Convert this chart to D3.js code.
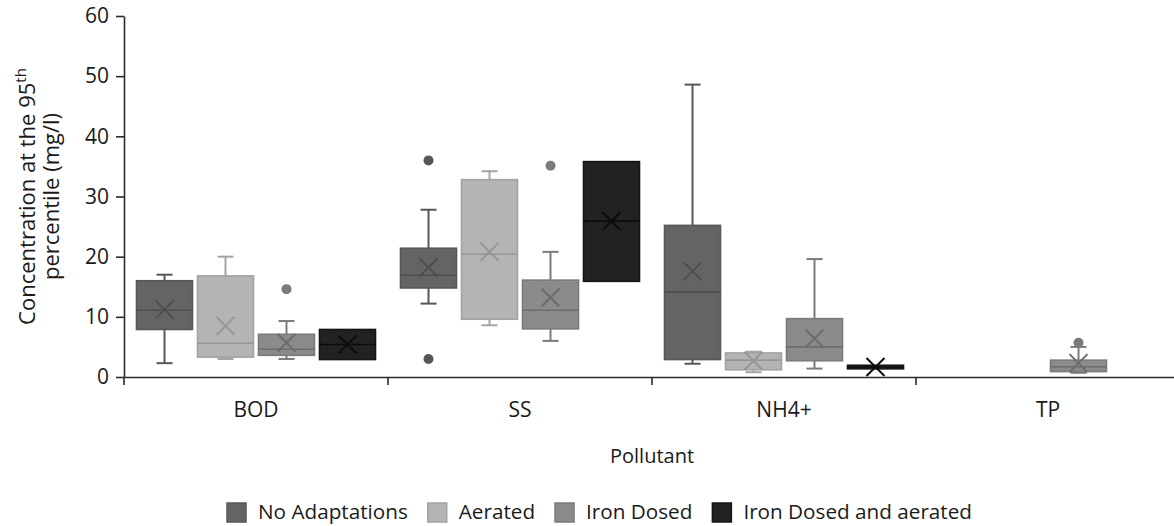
<!DOCTYPE html>
<html>
<head>
<meta charset="utf-8">
<script src="https://cdn.jsdelivr.net/npm/d3@7"></script>
<style>
  html, body { margin: 0; padding: 0; background: #ffffff; }
  svg { display: block; }
  text { font-family: "Open Sans", "Noto Sans", sans-serif; fill: #1a1a1a; }
</style>
</head>
<body>
<svg id="chart" width="1174" height="526"></svg>
<script>
// Pollutant categories along the x axis
const categories = ["BOD", "SS", "NH4+", "TP"];

// Treatment series shown in each category
const seriesNames = ["No Adaptations", "Aerated", "Iron Dosed", "Iron Dosed and aerated"];

// Box statistics (mg/l) per category for each series; null = no data
const noAdaptations = [
  { min: 2.3, q1: 7.9, median: 11.1, q3: 16.0, max: 17.0, mean: 11.2, outliers: [] },
  { min: 12.2, q1: 14.8, median: 16.9, q3: 21.4, max: 27.8, mean: 18.2, outliers: [36.0, 3.0] },
  { min: 2.2, q1: 2.9, median: 14.1, q3: 25.2, max: 48.6, mean: 17.6, outliers: [] },
  null
];
const aerated = [
  { min: 3.0, q1: 3.3, median: 5.6, q3: 16.8, max: 20.0, mean: 8.5, outliers: [] },
  { min: 8.6, q1: 9.6, median: 20.4, q3: 32.8, max: 34.2, mean: 20.8, outliers: [] },
  { min: 0.8, q1: 1.2, median: 2.8, q3: 4.0, max: 4.2, mean: 2.7, outliers: [] },
  null
];
const ironDosed = [
  { min: 3.0, q1: 3.6, median: 4.6, q3: 7.1, max: 9.3, mean: 5.7, outliers: [14.6] },
  { min: 6.0, q1: 8.0, median: 11.1, q3: 16.1, max: 20.8, mean: 13.2, outliers: [35.1] },
  { min: 1.4, q1: 2.7, median: 5.0, q3: 9.7, max: 19.6, mean: 6.4, outliers: [] },
  { min: 0.7, q1: 0.9, median: 1.7, q3: 2.8, max: 5.0, mean: 2.3, outliers: [5.7] }
];
const ironDosedAerated = [
  { min: 2.9, q1: 2.9, median: 5.4, q3: 7.9, max: 7.9, mean: 5.4, outliers: [] },
  { min: 15.9, q1: 15.9, median: 25.9, q3: 35.8, max: 35.8, mean: 25.9, outliers: [] },
  { min: 1.35, q1: 1.35, median: 1.65, q3: 1.95, max: 1.95, mean: 1.65, outliers: [] },
  null
];

// Y axis tick values
const yTicks = [0, 10, 20, 30, 40, 50, 60];

const seriesData = [noAdaptations, aerated, ironDosed, ironDosedAerated];

// Fill / outline / mean-marker colours per series
const fills   = ["#646464", "#b4b4b4", "#8b8b8b", "#222222"];
const strokes = ["#575757", "#a3a3a3", "#7b7b7b", "#161616"];
const marks   = ["#4e4e4e", "#969696", "#6c6c6c", "#0c0c0c"];

const svg = d3.select("#chart");
const plot = { left: 124, right: 1180, top: 16, bottom: 377 };

const y = d3.scaleLinear().domain([0, 60]).range([plot.bottom, plot.top]);
const x0 = d3.scaleBand().domain(categories).range([plot.left, plot.right]).padding(0);
const x1 = d3.scaleBand().domain(seriesNames).range([0, x0.bandwidth()])
  .paddingInner(0.082).paddingOuter(0.205);

const axisColor = "#2b2b2b";
const labelSize = 21;

// Boxes
const bw = x1.bandwidth();
const capHalf = 8;
seriesNames.forEach((name, si) => {
  const g = svg.append("g").attr("class", "series");
  categories.forEach((cat, ci) => {
    const d = seriesData[si][ci];
    if (!d) return;
    const left = x0(cat) + x1(name);
    const cx = left + bw / 2;
    const box = g.append("g");
    // whiskers
    if (d.max > d.q3) {
      box.append("line").attr("x1", cx).attr("x2", cx).attr("y1", y(d.q3)).attr("y2", y(d.max))
        .attr("stroke", strokes[si]).attr("stroke-width", 2);
      box.append("line").attr("x1", cx - capHalf).attr("x2", cx + capHalf).attr("y1", y(d.max)).attr("y2", y(d.max))
        .attr("stroke", strokes[si]).attr("stroke-width", 2);
    }
    if (d.min < d.q1) {
      box.append("line").attr("x1", cx).attr("x2", cx).attr("y1", y(d.q1)).attr("y2", y(d.min))
        .attr("stroke", strokes[si]).attr("stroke-width", 2);
      box.append("line").attr("x1", cx - capHalf).attr("x2", cx + capHalf).attr("y1", y(d.min)).attr("y2", y(d.min))
        .attr("stroke", strokes[si]).attr("stroke-width", 2);
    }
    // box body
    box.append("rect").attr("x", left).attr("width", bw)
      .attr("y", y(d.q3)).attr("height", Math.max(1, y(d.q1) - y(d.q3)))
      .attr("fill", fills[si]).attr("stroke", strokes[si]).attr("stroke-width", 1.6);
    // median
    box.append("line").attr("x1", left).attr("x2", left + bw).attr("y1", y(d.median)).attr("y2", y(d.median))
      .attr("stroke", marks[si]).attr("stroke-width", 1.6);
    // mean marker
    const m = 9, my = y(d.mean);
    box.append("path")
      .attr("d", `M${cx - m},${my - m}L${cx + m},${my + m}M${cx - m},${my + m}L${cx + m},${my - m}`)
      .attr("stroke", marks[si]).attr("stroke-width", 2).attr("fill", "none");
    // outliers
    d.outliers.forEach(v => {
      box.append("circle").attr("cx", cx).attr("cy", y(v)).attr("r", 5)
        .attr("fill", strokes[si]);
    });
  });
});

// Y axis
const yAxis = svg.append("g").attr("transform", `translate(${plot.left},0)`)
  .call(d3.axisLeft(y).tickValues(yTicks).tickSize(8).tickSizeOuter(0).tickPadding(7));
yAxis.select(".domain").attr("stroke", axisColor).attr("stroke-width", 1.6);
yAxis.selectAll(".tick line").attr("stroke", axisColor).attr("stroke-width", 1.6);
yAxis.selectAll(".tick text").attr("font-size", labelSize).attr("fill", "#1a1a1a")
  .style("font-family", "'Open Sans', sans-serif");

// X axis: baseline, category boundary ticks, labels
const xAxis = svg.append("g").attr("transform", `translate(0,${plot.bottom})`)
  .call(d3.axisBottom(x0).tickSize(0).tickPadding(25).tickSizeOuter(0));
xAxis.select(".domain").attr("stroke", axisColor).attr("stroke-width", 1.6);
xAxis.selectAll(".tick text").attr("font-size", labelSize).attr("fill", "#1a1a1a")
  .style("font-family", "'Open Sans', sans-serif");
xAxis.selectAll("line.boundary")
  .data(categories)
  .enter().append("line").attr("class", "boundary")
  .attr("x1", d => x0(d)).attr("x2", d => x0(d))
  .attr("y1", 0).attr("y2", 8)
  .attr("stroke", axisColor).attr("stroke-width", 1.6);

// Axis titles
svg.append("text")
  .attr("x", (plot.left + plot.right) / 2).attr("y", 463)
  .attr("text-anchor", "middle").attr("font-size", 20)
  .text("Pollutant");

const yTitle = svg.append("text")
  .attr("transform", `translate(35,${(plot.top + plot.bottom) / 2}) rotate(-90)`)
  .attr("text-anchor", "middle").attr("font-size", 22);
const line1 = yTitle.append("tspan").attr("x", 0).attr("dy", 0);
line1.append("tspan").text("Concentration at the 95");
line1.append("tspan").attr("font-size", 15).attr("dy", -9).text("th");
yTitle.append("tspan").attr("x", 0).attr("dy", 9 + 24).text("percentile (mg/l)");

// Legend
const legend = svg.append("g").attr("class", "legend");
let lx = 227;
seriesNames.forEach((name, i) => {
  legend.append("rect").attr("x", lx).attr("y", 503).attr("width", 19).attr("height", 19)
    .attr("fill", fills[i]).attr("stroke", strokes[i]).attr("stroke-width", 1.5);
  const t = legend.append("text").attr("x", lx + 31).attr("y", 519)
    .attr("font-size", 20.7).text(name);
  lx += 31 + t.node().getComputedTextLength() + 20;
});
</script>
</body>
</html>
